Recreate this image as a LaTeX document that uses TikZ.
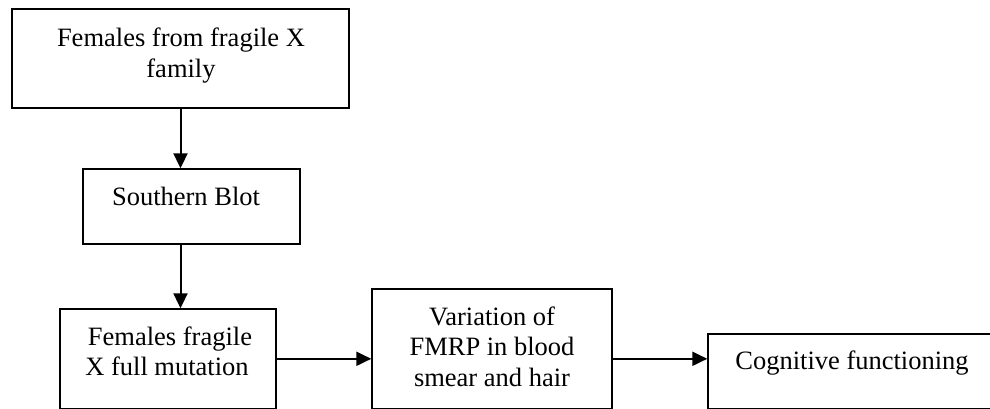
\documentclass[tikz,border=0pt]{standalone}
\usepackage{fontspec}
\setmainfont{Liberation Serif}
\usetikzlibrary{arrows.meta}
\begin{document}
\begin{tikzpicture}[x=1pt,y=-1pt,
  boxshape/.style={draw=black,line width=1.4pt,fill=none},
  txt/.style={inner sep=0pt,anchor=base,align=center,font=\fontsize{26.5}{30.5}\selectfont},
  conn/.style={line width=2pt,-{Triangle[length=15pt,width=14pt]}}]
\useasboundingbox (0,0) rectangle (990,409);
\fill[white] (0,0) rectangle (990,409);
% boxes
\node[boxshape,inner sep=0pt,minimum width=337pt,minimum height=99pt] (b1) at (180.5,58.5) {};
\node[boxshape,inner sep=0pt,minimum width=217pt,minimum height=75pt] (b2) at (191.5,206.5) {};
\node[boxshape,inner sep=0pt,minimum width=216pt,minimum height=99.6pt] (b3) at (168,358.8) {};
\node[boxshape,inner sep=0pt,minimum width=240pt,minimum height=119.6pt] (b4) at (492,348.8) {};
\node[boxshape,inner sep=0pt,minimum width=288pt,minimum height=74.6pt] (b5) at (852,371.3) {};
% texts (base anchor = last line)
\node[txt] (t1) at (181,77.5) {Females from fragile X\\family};
\node[txt] (t2) at (186,205) {Southern Blot};
\node[txt] (t3) at (167,375.5) {\hspace{6pt}Females fragile\\X full mutation\hspace{7pt}};
\node[txt] (t4) at (492,386) {Variation of\\FMRP in blood\\smear and hair};
\node[txt] (t5) at (852,369) {Cognitive functioning};
% connectors
\draw[conn] (b1.south) -- (b1.south |- b2.north);
\draw[conn] (b2.south -| b1.south) -- (b1.south |- b3.north);
\draw[conn] (b3.east) -- (b3.east -| b4.west);
\draw[conn] (b3.east -| b4.east) -- (b3.east -| b5.west);
\end{tikzpicture}
\end{document}
